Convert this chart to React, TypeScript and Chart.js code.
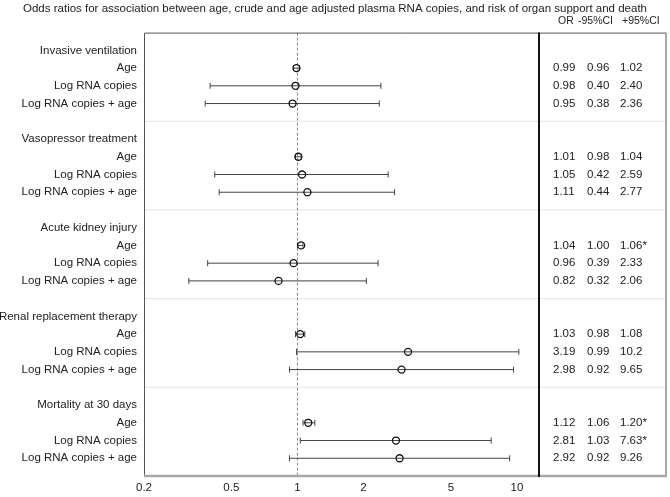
import React, { useEffect, useRef } from 'react';
import { Chart, registerables } from 'chart.js';
Chart.register(...registerables);

const chartTitle =
  'Odds ratios for association between age, crude and age adjusted plasma RNA copies, and risk of organ support and death';
const groups = [
  'Invasive ventilation',
  'Vasopressor treatment',
  'Acute kidney injury',
  'Renal replacement therapy',
  'Mortality at 30 days',
];
const rowLabels = ['Age', 'Log RNA copies', 'Log RNA copies + age'];
const oddsRatio = [
  [0.99, 0.98, 0.95],
  [1.01, 1.05, 1.11],
  [1.04, 0.96, 0.82],
  [1.03, 3.19, 2.98],
  [1.12, 2.81, 2.92],
];
const lowerCI = [
  [0.96, 0.4, 0.38],
  [0.98, 0.42, 0.44],
  [1.0, 0.39, 0.32],
  [0.98, 0.99, 0.92],
  [1.06, 1.03, 0.92],
];
const upperCI = [
  [1.02, 2.4, 2.36],
  [1.04, 2.59, 2.77],
  [1.06, 2.33, 2.06],
  [1.08, 10.2, 9.65],
  [1.2, 7.63, 9.26],
];
const orText = [
  ['0.99', '0.98', '0.95'],
  ['1.01', '1.05', '1.11'],
  ['1.04', '0.96', '0.82'],
  ['1.03', '3.19', '2.98'],
  ['1.12', '2.81', '2.92'],
];
const lowerText = [
  ['0.96', '0.40', '0.38'],
  ['0.98', '0.42', '0.44'],
  ['1.00', '0.39', '0.32'],
  ['0.98', '0.99', '0.92'],
  ['1.06', '1.03', '0.92'],
];
const upperText = [
  ['1.02', '2.40', '2.36'],
  ['1.04', '2.59', '2.77'],
  ['1.06*', '2.33', '2.06'],
  ['1.08', '10.2', '9.65'],
  ['1.20*', '7.63*', '9.26'],
];
const tableHeaders = ['OR', '-95%CI', '+95%CI'];
const xTicks = [0.2, 0.5, 1, 2, 5, 10];

const FONT = '"Liberation Sans", Arial, Helvetica, sans-serif';
const FONT_SIZE = 11.5;
const SLOTS_PER_GROUP = 5;

const slotOf = (g: number, r: number) => g * SLOTS_PER_GROUP + 1 + r;

const labelForSlot = (v: number) => {
  if (v < 0) return '';
  const g = Math.floor(v / SLOTS_PER_GROUP);
  const k = v - g * SLOTS_PER_GROUP;
  if (g >= groups.length) return '';
  if (k === 0) return groups[g];
  if (k >= 1 && k <= 3) return rowLabels[k - 1];
  return '';
};

const TABLE_WIDTH = 127;

const decor = {
  id: 'decor',
  beforeDatasetsDraw(chart: any) {
    const { ctx, chartArea: a, scales } = chart;
    const x = scales.x;
    const y = scales.y;
    const tableRight = a.right + TABLE_WIDTH;
    ctx.save();
    // separators
    ctx.strokeStyle = '#e4e4e4';
    ctx.lineWidth = 1;
    for (let g = 0; g < groups.length - 1; g++) {
      const yy = y.getPixelForValue(g * SLOTS_PER_GROUP + 4);
      ctx.beginPath();
      ctx.moveTo(a.left, yy);
      ctx.lineTo(tableRight, yy);
      ctx.stroke();
    }
    // reference line at OR = 1
    const x1 = x.getPixelForValue(1);
    ctx.strokeStyle = '#8a8a8a';
    ctx.setLineDash([3, 2]);
    ctx.beginPath();
    ctx.moveTo(x1, a.top);
    ctx.lineTo(x1, a.bottom);
    ctx.stroke();
    ctx.setLineDash([]);
    // error bars
    ctx.strokeStyle = '#444';
    ctx.lineWidth = 1;
    for (let g = 0; g < groups.length; g++) {
      for (let r = 0; r < rowLabels.length; r++) {
        const yy = y.getPixelForValue(slotOf(g, r));
        const xl = x.getPixelForValue(lowerCI[g][r]);
        const xh = x.getPixelForValue(upperCI[g][r]);
        ctx.beginPath();
        ctx.moveTo(xl, yy);
        ctx.lineTo(xh, yy);
        ctx.moveTo(xl, yy - 3);
        ctx.lineTo(xl, yy + 3);
        ctx.moveTo(xh, yy - 3);
        ctx.lineTo(xh, yy + 3);
        ctx.stroke();
      }
    }
    ctx.restore();
  },
  afterDraw(chart: any) {
    const { ctx, chartArea: a, scales } = chart;
    const y = scales.y;
    const tableRight = a.right + TABLE_WIDTH;
    ctx.save();
    // frame
    ctx.lineWidth = 1;
    ctx.strokeStyle = '#555';
    ctx.beginPath();
    ctx.moveTo(a.left + 0.5, a.bottom);
    ctx.lineTo(a.left + 0.5, a.top + 0.5);
    ctx.lineTo(tableRight, a.top + 0.5);
    ctx.stroke();
    ctx.strokeStyle = '#a8a8a8';
    ctx.lineWidth = 2;
    ctx.beginPath();
    ctx.moveTo(tableRight, a.top);
    ctx.lineTo(tableRight, a.bottom);
    ctx.stroke();
    ctx.lineWidth = 2.5;
    ctx.beginPath();
    ctx.moveTo(a.left, a.bottom);
    ctx.lineTo(tableRight + 1, a.bottom);
    ctx.stroke();
    // divider between plot and table
    ctx.strokeStyle = '#111';
    ctx.lineWidth = 2;
    ctx.beginPath();
    ctx.moveTo(a.right, a.top);
    ctx.lineTo(a.right, a.bottom + 1);
    ctx.stroke();
    // table header
    ctx.fillStyle = '#222';
    ctx.textBaseline = 'middle';
    ctx.textAlign = 'left';
    ctx.font = `10.5px ${FONT}`;
    const headerX = [a.right + 19, a.right + 39, a.right + 83];
    tableHeaders.forEach((h, i) => ctx.fillText(h, headerX[i], a.top - 11));
    // table values
    ctx.font = `${FONT_SIZE}px ${FONT}`;
    const cols = [a.right + 14, a.right + 48, a.right + 81];
    for (let g = 0; g < groups.length; g++) {
      for (let r = 0; r < rowLabels.length; r++) {
        const yy = y.getPixelForValue(slotOf(g, r));
        ctx.fillText(orText[g][r], cols[0], yy);
        ctx.fillText(lowerText[g][r], cols[1], yy);
        ctx.fillText(upperText[g][r], cols[2], yy);
      }
    }
    ctx.restore();
  },
};

export default function App() {
  const ref = useRef<HTMLCanvasElement | null>(null);
  useEffect(() => {
    if (!ref.current) return;
    Chart.defaults.font.family = FONT;
    Chart.defaults.font.size = FONT_SIZE;
    Chart.defaults.color = '#222';
    const points: { x: number; y: number }[] = [];
    for (let g = 0; g < groups.length; g++) {
      for (let r = 0; r < rowLabels.length; r++) {
        points.push({ x: oddsRatio[g][r], y: slotOf(g, r) });
      }
    }
    const chart = new Chart(ref.current, {
      type: 'scatter',
      data: {
        datasets: [
          {
            data: points,
            pointRadius: 3.5,
            pointBorderWidth: 1.3,
            pointBorderColor: '#111',
            pointBackgroundColor: 'rgba(0,0,0,0)',
            showLine: false,
          },
        ],
      },
      options: {
        animation: false,
        responsive: false,
        layout: { padding: 0 },
        plugins: {
          legend: { display: false },
          tooltip: { enabled: false },
          title: {
            display: true,
            text: chartTitle,
            font: { size: FONT_SIZE, weight: 'normal' as any, family: FONT },
            color: '#222',
            padding: { top: 2, bottom: 16.8 },
          },
        },
        scales: {
          x: {
            type: 'logarithmic',
            min: 0.2,
            max: 12.6,
            grid: { display: false, drawTicks: false },
            border: { display: false },
            afterBuildTicks: (axis: any) => {
              axis.ticks = xTicks.map((v) => ({ value: v }));
            },
            afterFit: (scale: any) => {
              scale.height = 21;
            },
            ticks: {
              autoSkip: false,
              maxRotation: 0,
              padding: 5,
              callback: (v: any) => String(v),
            },
          },
          y: {
            type: 'linear',
            min: -1,
            max: 24,
            reverse: true,
            grid: { display: false, drawTicks: false },
            border: { display: false },
            afterFit: (scale: any) => {
              scale.width = 144;
            },
            ticks: {
              stepSize: 1,
              autoSkip: false,
              padding: 7,
              callback: (v: any) => labelForSlot(Number(v)),
            },
          },
          table: {
            type: 'linear',
            position: 'right',
            min: 0,
            max: 1,
            grid: { display: false, drawTicks: false },
            border: { display: false },
            ticks: { display: false },
            afterFit: (scale: any) => {
              scale.width = 131;
            },
          },
        },
      },
      plugins: [decor],
    });
    return () => chart.destroy();
  }, []);
  return (
    <div style={{ position: 'absolute', left: 0, top: 0, width: 670, height: 497 }}>
      <canvas ref={ref} width={670} height={497} />
    </div>
  );
}
